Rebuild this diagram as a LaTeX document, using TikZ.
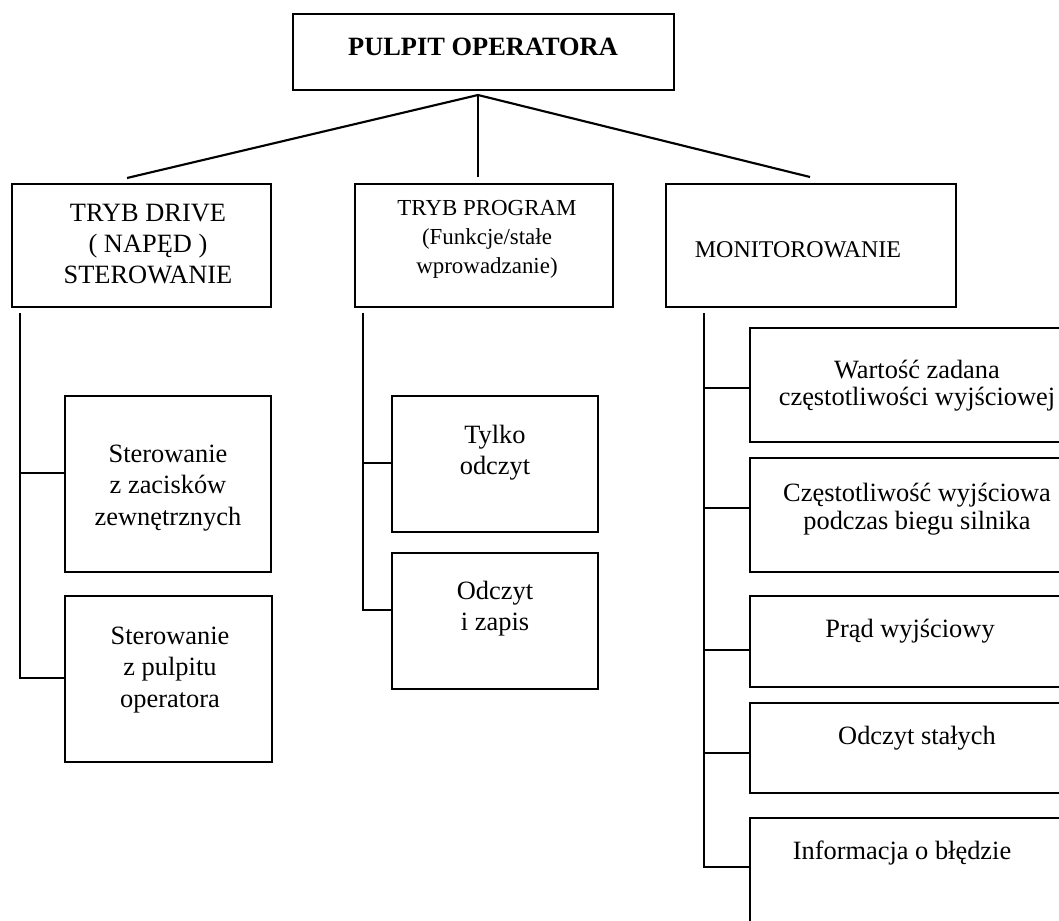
\documentclass[tikz,border=0pt]{standalone}
\usepackage{fontspec}
\setmainfont{Liberation Serif}
\usetikzlibrary{fit}
\tikzset{
  box/.style={draw, line width=1.6pt, inner sep=0pt},
  lbl/.style={inner sep=0pt, align=center, font=\fontsize{19.8}{23.4}\selectfont},
  lblsmall/.style={inner sep=0pt, align=center, font=\fontsize{17.2}{21.75}\selectfont},
  lblright/.style={inner sep=0pt, align=center, font=\fontsize{19.8}{20.5}\selectfont},
  link/.style={line width=1.6pt},
}
\begin{document}
\begin{tikzpicture}[x=0.75pt, y=-0.75pt]
\useasboundingbox (0,0) rectangle (1059,920);
\clip (0,0) rectangle (1059,920);

% top box
\node[box, fit={(293,14) (674,90)}] (top) {};
\node[lbl, font=\fontsize{19.8}{23.4}\selectfont\bfseries] (toptxt) at (483,47) {PULPIT OPERATORA};

% level 2 boxes
\node[box, fit={(12,184) (271,307)}] (drive) {};
\node[lbl] (drivetxt) at (148,244) {TRYB DRIVE\\( NAPĘD )\\STEROWANIE};
\node[box, fit={(355,184) (613,307)}] (prog) {};
\node[lblsmall] (progtxt) at (487,239) {TRYB PROGRAM\\(Funkcje/stałe\\wprowadzanie)};
\node[box, fit={(666,184) (956,307)}] (mon) {};
\node[lbl, font=\fontsize{18}{22}\selectfont] (montxt) at (798,250) {MONITOROWANIE};

% connectors from top
\coordinate (j) at (478,95);
\coordinate (c1) at (127,178);
\coordinate (c2) at (478,177);
\coordinate (c3) at (810,177);
\draw[link] (j) -- (c1);
\draw[link] (j) -- (c2);
\draw[link] (j) -- (c3);

% left branch
\node[box, fit={(65,396) (271,572)}] (zac) {};
\node[lbl] (zactxt) at (168,488) {Sterowanie\\z zacisków\\zewnętrznych};
\node[box, fit={(65,596) (272,762)}] (pul) {};
\node[lbl] (pultxt) at (170,670) {Sterowanie\\z pulpitu\\operatora};
\coordinate (L0) at (20,313);
\coordinate (L1) at (20,473);
\coordinate (L2) at (20,678);
\draw[link] (L0) |- (L2 -| pul.west);
\draw[link] (L1) -- (L1 -| zac.west);

% middle branch
\node[box, fit={(392,396) (598,532)}] (tyl) {};
\node[lbl] (tyltxt) at (495,453) {Tylko\\odczyt};
\node[box, fit={(392,553) (598,689)}] (odz) {};
\node[lbl] (odztxt) at (495,609) {Odczyt\\i zapis};
\coordinate (M0) at (363,313);
\coordinate (M1) at (363,463);
\coordinate (M2) at (363,610);
\draw[link] (M0) |- (M2 -| odz.west);
\draw[link] (M1) -- (M1 -| tyl.west);

% right branch
\node[box, fit={(750,328) (1084,442)}] (war) {};
\node[lblright] (wartxt) at (917,386) {Wartość zadana\\częstotliwości wyjściowej};
\node[box, fit={(750,458) (1084,572)}] (cze) {};
\node[lblright] (czetxt) at (917,509) {Częstotliwość wyjściowa\\podczas biegu silnika};
\node[box, fit={(750,596) (1084,687)}] (pra) {};
\node[lbl] (pratxt) at (910,631) {Prąd wyjściowy};
\node[box, fit={(750,703) (1084,793)}] (sta) {};
\node[lbl] (statxt) at (917,738) {Odczyt stałych};
\node[box, fit={(750,818) (1084,960)}] (inf) {};
\node[lbl] (inftxt) at (902,853) {Informacja o błędzie};
\coordinate (R0) at (704,313);
\coordinate (R1) at (704,388);
\coordinate (R2) at (704,508);
\coordinate (R3) at (704,650);
\coordinate (R4) at (704,753);
\coordinate (R5) at (704,867);
\draw[link] (R0) |- (R5 -| inf.west);
\draw[link] (R1) -- (R1 -| war.west);
\draw[link] (R2) -- (R2 -| cze.west);
\draw[link] (R3) -- (R3 -| pra.west);
\draw[link] (R4) -- (R4 -| sta.west);
\end{tikzpicture}
\end{document}
